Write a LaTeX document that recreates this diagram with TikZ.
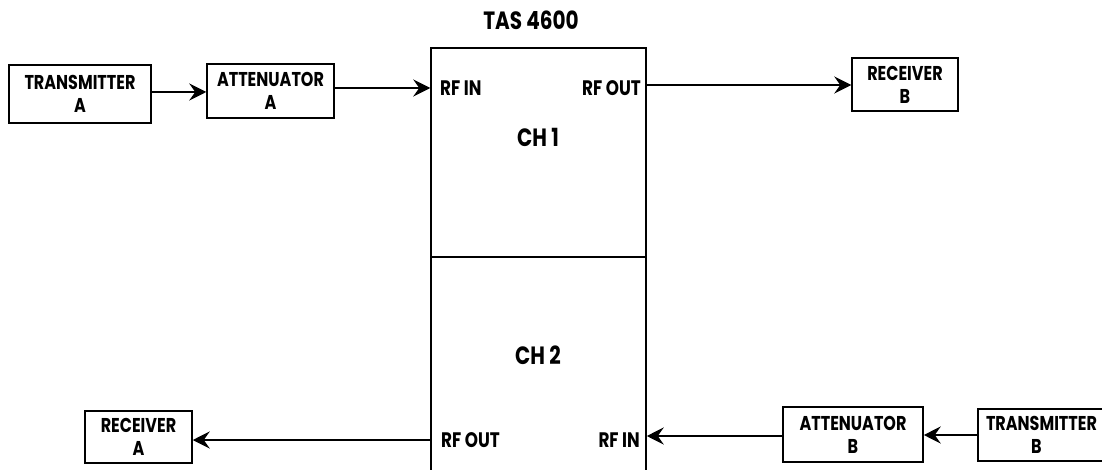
\documentclass[tikz,border=0pt]{standalone}
\usepackage{fontspec}
\setmainfont{Poppins}[FakeStretch=0.8]
\usetikzlibrary{arrows.meta}
\tikzset{
  blk/.style={draw, line width=1.5pt, align=center, inner sep=0pt,
    font=\fontsize{20}{23}\selectfont\bfseries},
  lbl/.style={inner sep=0pt, font=\fontsize{21}{23}\selectfont\bfseries},
  big/.style={inner sep=0pt, font=\fontsize{25}{27}\selectfont\bfseries},
  conn/.style={line width=1.5pt, -{Stealth[length=17pt, width=17pt, inset=6pt]}},
}
\begin{document}
\begin{tikzpicture}[x=1pt, y=-1pt]
\useasboundingbox (0,0) rectangle (1102,470);
\clip (0,0) rectangle (1102,470);
\node[blk, minimum width=142pt, minimum height=58pt] (txA) at (80,94) {TRANSMITTER\\A};
\node[blk, minimum width=127pt, minimum height=54pt] (atA) at (270.5,91) {ATTENUATOR\\A};
\node[draw, line width=1.5pt, minimum width=215pt, minimum height=432pt, inner sep=0pt] (tas) at (538.5,264) {};
\node[big] (title) at (531,20) {TAS 4600};
\coordinate (div) at (0,257);
\draw[line width=1.5pt] (tas.west |- div) -- (tas.east |- div);
\node[big] (ch1) at (538,137) {CH 1};
\node[big] (ch2) at (538,355) {CH 2};
\node[lbl, anchor=west] (rfin1) at (440,88) {RF IN};
\node[lbl, anchor=east] (rfout1) at (641,88) {RF OUT};
\node[lbl, anchor=west] (rfout2) at (441,440) {RF OUT};
\node[lbl, anchor=east] (rfin2) at (640,440) {RF IN};
\node[blk, minimum width=106pt, minimum height=53pt] (rxB) at (905,84.5) {RECEIVER\\B};
\node[blk, minimum width=140pt, minimum height=55pt] (atB) at (853,434.5) {ATTENUATOR\\B};
\node[blk, minimum width=140pt, minimum height=52pt, text width=140pt, align=left] (txB) at (1048,435) {\hspace*{8pt}TRANSMITTER\\\hspace*{53pt}B};
\node[blk, minimum width=107pt, minimum height=52pt] (rxA) at (138.5,437) {RECEIVER\\A};
\coordinate (y1) at (0,92);
\coordinate (y2) at (0,88);
\coordinate (y3) at (0,85);
\coordinate (y4) at (0,440);
\coordinate (y5) at (0,436);
\coordinate (y6) at (0,435);
\draw[conn] (txA.east |- y1) -- (atA.west |- y1);
\draw[conn] (atA.east |- y2) -- (tas.west |- y2);
\draw[conn] (tas.east |- y3) -- (rxB.west |- y3);
\draw[conn] (tas.west |- y4) -- (rxA.east |- y4);
\draw[conn] (atB.west |- y5) -- (tas.east |- y5);
\draw[conn] (txB.west |- y6) -- (atB.east |- y6);
\end{tikzpicture}
\end{document}
